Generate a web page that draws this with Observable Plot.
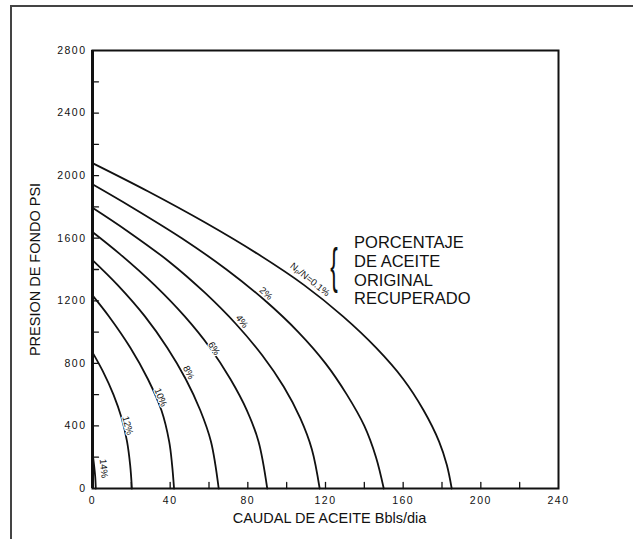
<!DOCTYPE html>
<html><head><meta charset="utf-8">
<script src="https://cdn.jsdelivr.net/npm/d3@7"></script>
<script src="https://cdn.jsdelivr.net/npm/@observablehq/plot@0.6"></script>
<style>
body{margin:0;background:#fff;}
#wrap{position:relative;width:633px;height:539px;overflow:hidden;background:#fff;}
#border{position:absolute;left:10px;top:5px;width:700px;height:700px;border-top:2px solid #444;border-left:2px solid #444;}
#chart{position:absolute;left:0;top:0;}
</style></head><body>
<div id="wrap"><div id="border"></div><div id="chart"></div></div>
<script>
// Curves: [caudal Bbls/dia, presion psi], one per % of original oil recovered
const curve01 = [[0,2080],[28.5,1900],[58,1700],[85,1500],[109,1300],[129,1100],[146,900],[160,700],[170.5,500],[178.5,300],[182.5,150],[185,0]];
const curve02 = [[0,1945],[20,1800],[46,1600],[69,1400],[89,1200],[106,1000],[120,800],[131,600],[140,400],[146,200],[150,0]];
const curve04 = [[0,1795],[17.5,1650],[39.5,1450],[58,1250],[74,1050],[87.5,850],[98.5,650],[107,450],[113,250],[117,0]];
const curve06 = [[0,1640],[14,1500],[32,1300],[47.5,1100],[60.5,900],[71,700],[79.5,500],[85.5,300],[90,0]];
const curve08 = [[0,1460],[13,1300],[27,1100],[38.5,900],[48,700],[55.5,500],[61,300],[65,0]];
const curve10 = [[0,1235],[8.5,1100],[19.5,900],[28.5,700],[35.5,500],[39.5,300],[41,150],[42,0]];
const curve12 = [[0,870],[5.3,750],[10.8,600],[15,450],[17.8,300],[19.4,150],[20.3,0]];
const curve14 = [[0,230],[0.8,150],[1.4,75],[1.7,0]];

const curveLabels = ["Nₚ/N=0.1%","2%","4%","6%","8%","10%","12%","14%"];
const curveSeries = [curve01,curve02,curve04,curve06,curve08,curve10,curve12,curve14];
// label anchors [caudal, presion, angle]
const labelAnchors = [[112,1336,39],[89.3,1247,42],[76.9,1068,52],[62.5,895,58],[49.5,742,63],[35.1,582,68],[18.1,403,75],[5.7,128,85]];

const xTickLabels = [0,40,80,120,160,200,240];
const yTickLabels = [0,400,800,1200,1600,2000,2400,2800];
const xMinorTicks = [20,40,60,80,100,120,140,160,180,200,220];
const yMinorTicks = [200,400,600,800,1000,1200,1400,1600,1800,2000,2200,2400,2600];

const noteLines = ["PORCENTAJE","DE ACEITE","ORIGINAL","RECUPERADO"];
const notePress = [1573,1451,1330,1215];

const rows = curveSeries.flatMap((s,i)=>s.map(([q,p])=>({curve:curveLabels[i],q,p})));
const labelRows = curveLabels.map((t,i)=>({t,q:labelAnchors[i][0],p:labelAnchors[i][1],a:labelAnchors[i][2]}));
const noteRows = noteLines.map((t,i)=>({t,p:notePress[i]}));

const tickShape = {draw(ctx,l){ctx.moveTo(0,0);ctx.lineTo(0,-l);}};
const font = "Liberation Sans, Arial, sans-serif";

const chart = Plot.plot({
  width:633, height:539,
  marginLeft:92, marginRight:75, marginTop:50, marginBottom:51,
  style:{fontFamily:font, background:"transparent", color:"#111"},
  x:{domain:[0,240]},
  y:{domain:[0,2800]},
  marks:[
    Plot.line(rows,{x:"q",y:"p",z:"curve",stroke:"#111",strokeWidth:1.8,curve:"catmull-rom"}),
    Plot.text(labelRows,{x:"q",y:"p",text:"t",rotate:"a",fontSize:9.5,fill:"#111",stroke:"white",strokeWidth:2.5,fontFamily:font}),
    Plot.vector(xMinorTicks,{x:d=>d,y:0,length:6,rotate:0,anchor:"start",shape:tickShape,stroke:"#111",strokeWidth:1.3}),
    Plot.vector(yMinorTicks,{x:0,y:d=>d,length:6,rotate:90,anchor:"start",shape:tickShape,stroke:"#111",strokeWidth:1.3}),
    Plot.axisX({ticks:xTickLabels,tickSize:0,tickPadding:8,fontSize:10.5,label:null,tickFormat:d=>String(d)}),
    Plot.axisY({ticks:yTickLabels,tickSize:0,tickPadding:6,fontSize:10.5,label:null,tickFormat:d=>String(d)}),
    Plot.frame({stroke:"#111",strokeWidth:2}),
    Plot.ruleX([0],{stroke:"#111",strokeWidth:3}),
    Plot.text(noteRows,{x:()=>134.7,y:"p",text:"t",textAnchor:"start",fontSize:16.5,fill:"#111"}),
    Plot.text(["{"],{x:()=>124.4,y:()=>1419,fontSize:50,fontWeight:100,fill:"#111",className:"brace"}),
    Plot.text(["CAUDAL DE ACEITE Bbls/dia"],{frameAnchor:"bottom",dy:34,dx:4,fontSize:14.5,fill:"#111"}),
    Plot.text(["PRESION DE FONDO PSI"],{x:()=>-29.4,y:()=>1400,rotate:-90,fontSize:14.5,fill:"#111"})
  ]
});
d3.select(chart).selectAll("g[aria-label$='tick label'] text").style("letter-spacing","1.5px");
d3.select(chart).selectAll(".brace text").each(function(){
  const t=d3.select(this); const tr=t.attr("transform")||"";
  t.attr("transform", tr+" scale(0.45,1)");
});
document.getElementById("chart").appendChild(chart);
</script>
</body></html>
